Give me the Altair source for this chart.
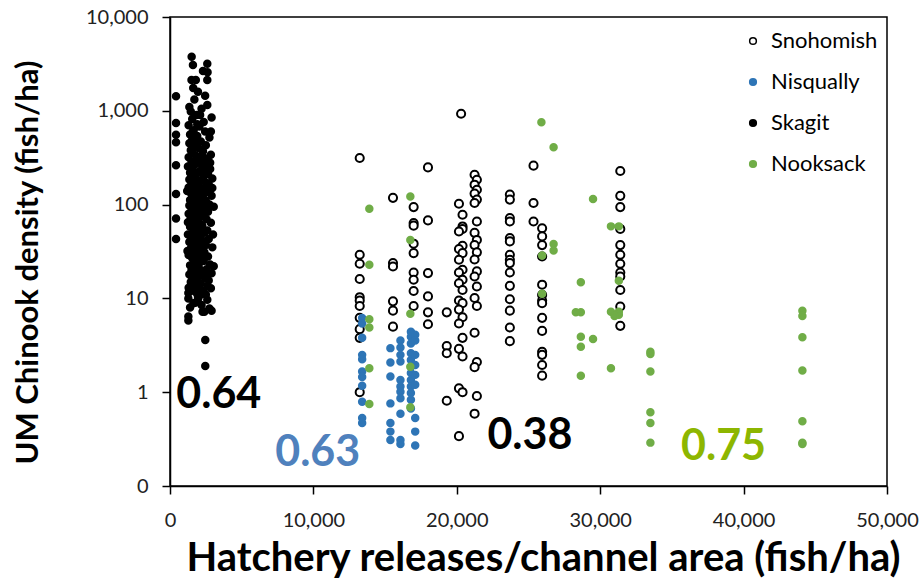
import altair as alt
import pandas as pd

# ---------------- data ----------------
sno_x = ([13230] * 11 + [15550] * 6 + [16990] * 9 + [17990] * 6 + [19300] * 4
         + [20300, 20150, 20400, 20400, 20400, 20150, 20400, 20150, 20400, 20150, 20400, 20150, 20400,
            20150, 20400, 20150, 20400, 20150, 20400, 20150, 20400, 20150, 20400, 20150, 20400, 20150]
         + [21240, 21400, 21240, 21400, 21240, 21400, 21240, 21400, 21240, 21400, 21240, 21400,
            21240, 21400, 21240, 21400, 21240, 21400, 21240, 21400, 21240, 21400, 21240]
         + [23700] * 15 + [25350] * 3 + [25950] * 14 + [31400] * 12)
sno_y = ([314, 29.2, 23.4, 16.1, 10.3, 9.5, 8.3, 6.2, 4.7, 3.8, 1.0]
         + [118, 23.8, 21.9, 9.3, 7.4, 5.0]
         + [94, 63.6, 59.6, 38.3, 30.4, 18.9, 15.8, 12.0, 8.3]
         + [249, 67.8, 18.6, 10.5, 7.1, 5.3]
         + [7.1, 3.1, 2.6, 0.81]
         + [930, 102, 78, 58.5, 55, 51.7, 36.4, 33.6, 30.4, 25.8, 20.2, 18.9, 15.8, 14.5, 12.3, 9.5,
            8.9, 7.6, 6.3, 5.4, 3.8, 2.9, 2.4, 1.1, 1.0, 0.34]
         + [208, 184, 163, 144, 131, 113, 104, 66, 50, 42, 37, 31, 26, 19.4, 17.1, 13.4, 10.1, 8.3,
            4.3, 2.1, 1.85, 0.91, 0.59]
         + [128, 113, 72, 66, 44, 40.5, 29.2, 25.8, 23.8, 18.9, 13.6, 9.8, 7.4, 4.9, 3.5]
         + [260, 104, 66]
         + [56, 45.8, 37, 28, 14, 10.9, 9.5, 8.9, 6.2, 4.5, 2.7, 2.5, 1.95, 1.5]
         + [228, 124, 94, 55, 37, 29.2, 23.4, 18.9, 17.1, 12.3, 8.2, 5.1])

nis_x = [13400] * 11 + [15370] * 7 + [16070] * 11 + [16800] * 12 + [17100] * 9
nis_y = ([6.2, 5.4, 3.8, 2.5, 2.25, 1.66, 1.45, 1.17, 0.79, 0.53, 0.47]
         + [2.95, 2.07, 1.47, 0.76, 0.47, 0.38, 0.31]
         + [3.55, 3.0, 2.5, 2.12, 1.35, 1.15, 1.01, 0.86, 0.59, 0.31, 0.28]
         + [4.4, 3.9, 3.3, 2.6, 2.2, 1.87, 1.6, 1.35, 1.15, 0.98, 0.83, 0.67]
         + [4.1, 3.55, 2.5, 1.95, 1.53, 1.2, 0.53, 0.38, 0.27])

ska_x = [420, 420, 420, 420, 420, 420, 420, 420,
         1510, 1600, 2600, 2300, 2620, 1500, 1800, 2600, 1620, 1950,
         1700, 2600, 2200, 1450, 1850, 2900, 1550, 2350, 1300, 2050,
         1650, 2450, 1400, 1900, 2750, 1550, 2150, 1350, 2500, 1750,
         2000, 1450, 2300, 1600, 2850, 1850, 1300, 2600, 2100, 1500,
         1950, 2400, 1700, 1250, 2250, 2800, 1550, 2050, 1400, 2650,
         1800, 2350, 1650, 2950, 1350, 2150, 1900, 2500, 1500, 2700,
         1750, 2000, 1300, 2400, 1600, 2250, 1850, 2600, 1450, 2100,
         1700, 2900, 1550, 2300, 1950, 1400, 2500, 1800, 2050, 1650,
         2750, 1350, 2200, 1900, 1500, 2450, 1750, 2050, 2650, 1600,
         1300, 2350, 1850, 2150, 1450, 2550, 1950, 1700, 2850, 1550,
         2250, 1400, 2000, 1800, 2600, 1650, 2400, 1250, 2100, 1900,
         1500, 2700, 1750, 2300, 1350, 2050, 1600, 2500, 1850, 2950,
         1450, 2200, 1700, 2400, 1950, 1300, 2650, 1550, 2100, 1800,
         2350, 1650, 2800, 1400, 2000, 1900, 2550, 1500, 2250, 1750,
         2900, 1350, 2050, 1600, 2450, 1850, 2700, 1450, 2150, 1700,
         2600, 1300, 2000, 2850, 1550, 2300, 1800, 1280, 2500, 1950,
         1280, 1970, 2600, 1630, 2200, 1400, 2750, 2270, 2400, 2900,
         1280, 1280, 2460, 2460, 1700, 2100, 1500, 2250, 1900, 2450,
         1350, 2800, 1200, 3050, 1250, 3000, 1220, 3050, 2950, 2850,
         1600, 2100, 1700, 2400, 1650, 2300, 1550, 2150, 1750, 2650]
ska_y = [1429, 743, 557, 461, 262, 130, 71, 43,
         3760, 3080, 3180, 2650, 2580, 2130, 2130, 2130, 1750, 1600,
         1320, 1150, 1050, 980, 900, 850, 820, 760, 700, 680,
         620, 600, 560, 540, 520, 490, 470, 450, 430, 420,
         400, 380, 370, 355, 340, 330, 320, 310, 300, 290,
         280, 270, 262, 255, 248, 240, 232, 225, 218, 212,
         205, 200, 195, 190, 185, 180, 176, 172, 168, 165,
         160, 156, 152, 149, 146, 142, 139, 136, 133, 130,
         127, 124, 121, 118, 115, 112, 110, 107, 105, 102,
         100, 98, 96, 94, 92, 90, 88, 86, 84, 82,
         80, 78, 76, 74, 72, 70, 68, 66, 64, 62,
         60, 58, 56, 55, 53, 51, 50, 48, 47, 46,
         44, 43, 42, 41, 40, 39, 38, 37, 36, 35,
         34, 33, 32, 31, 30, 29, 28, 27, 26, 25.5,
         25, 24, 23, 22.5, 22, 21, 20.5, 20, 19.5, 19,
         18.5, 18, 17.5, 17, 16.5, 16, 15.5, 15, 14.5, 14,
         13.5, 13, 12.8, 12.8, 12.2, 12, 11.6, 11.4, 11, 10.5,
         10, 10, 9.7, 8.9, 8.5, 8, 7.8, 7.2, 7.2, 7.4,
         6.4, 5.8, 3.6, 1.9, 25, 62, 150, 330, 720, 1450,
         1100, 280, 140, 95, 65, 48, 32, 22, 150, 600,
         600, 900, 450, 230, 70, 30, 16, 11, 9, 18]

nook_x = ([13900] * 6 + [16760] * 5
          + [25900, 26750, 29500, 26750, 26750, 25950, 25950]
          + [28650, 28650, 28300, 28650, 28650, 28650, 29500]
          + [30750, 31300, 31300, 30750, 31300, 31300, 31000, 30750]
          + [33500] * 6 + [44100] * 7)
nook_y = ([90.5, 22.8, 6.0, 4.9, 1.8, 0.75]
          + [122, 42, 6.85, 1.87, 0.69]
          + [754, 408, 115, 38, 32.5, 28.6, 11.2]
          + [14.9, 7.1, 7.1, 3.9, 3.06, 1.5, 3.7]
          + [58.6, 58.6, 15.4, 7.2, 7.2, 6.7, 6.5, 1.8]
          + [2.7, 2.55, 1.66, 0.61, 0.47, 0.29]
          + [7.4, 6.5, 3.86, 1.7, 0.49, 0.29, 0.28])

rivers = ["Snohomish", "Nisqually", "Skagit", "Nooksack"]
fill_colors = ["white", "#2E75B6", "black", "#70AD47"]
stroke_colors = ["black", "#2E75B6", "black", "#70AD47"]
marker_sizes = {"Snohomish": 66, "Nisqually": 42, "Skagit": 42, "Nooksack": 42}

label_text = ["0.64", "0.63", "0.38", "0.75"]
label_x = [3400, 10300, 25100, 38600]
label_y = [0.93, 0.225, 0.34, 0.26]
label_colors = ["black", "#4F81BD", "black", "#8DB600"]

x_ticks = [0, 10000, 20000, 30000, 40000, 50000]
y_ticks = [0.1, 1, 10, 100, 1000, 10000]

# ---------------- tables ----------------
rows = []
for name, xs, ys in [("Snohomish", sno_x, sno_y), ("Nisqually", nis_x, nis_y),
                     ("Skagit", ska_x, ska_y), ("Nooksack", nook_x, nook_y)]:
    for xv, yv in zip(xs, ys):
        rows.append({"river": name, "release": xv, "density": yv, "sz": marker_sizes[name]})
df = pd.DataFrame(rows)
df["idx"] = range(len(df))

labels_df = pd.DataFrame({"text": label_text, "release": label_x,
                          "density": label_y, "col": label_colors})

FONT = "Lato"

x_scale = alt.Scale(domain=[0, 50000], nice=False, zero=False)
y_scale = alt.Scale(type="log", domain=[0.1, 10000], nice=False)

legend = alt.Legend(title=None, orient="none", legendX=572, legendY=13,
                    labelFontSize=22, labelFont=FONT, labelColor="black",
                    symbolType="circle", symbolSize=45, symbolStrokeWidth=1.5,
                    rowPadding=19, labelOffset=7, padding=0)

points = alt.Chart(df).mark_point(filled=True, strokeWidth=2, opacity=1).encode(
    x=alt.X("release:Q", scale=x_scale,
            axis=alt.Axis(values=x_ticks, grid=False,
                          labelExpr="format(datum.value, ',')",
                          title="Hatchery releases/channel area (fish/ha)",
                          titleFontSize=40, titleFontWeight="bold", titleFont=FONT,
                          titleColor="black", titleX=373, titleY=72, titleBaseline="middle",
                          titleAlign="center",
                          labelFontSize=20, labelFont=FONT, labelColor="#222222",
                          labelPadding=16, tickSize=8, tickWidth=1.5, tickColor="black",
                          domainColor="black", domainWidth=1.5, labelFlush=False)),
    y=alt.Y("density:Q", scale=y_scale,
            axis=alt.Axis(values=y_ticks, grid=False,
                          labelExpr="datum.value < 1 ? '0' : format(datum.value, ',')",
                          title="UM Chinook density (fish/ha)",
                          titleFontSize=31, titleFontWeight="bold", titleFont=FONT,
                          titleColor="black", titleX=-142, titleY=245, titleBaseline="middle",
                          titleAlign="center",
                          labelFontSize=20, labelFont=FONT, labelColor="#222222",
                          labelPadding=14, tickSize=8, tickWidth=1.5, tickColor="black",
                          domainColor="black", domainWidth=1.5, labelFlush=False)),
    fill=alt.Fill("river:N", scale=alt.Scale(domain=rivers, range=fill_colors), legend=legend),
    stroke=alt.Stroke("river:N", scale=alt.Scale(domain=rivers, range=stroke_colors), legend=legend),
    size=alt.Size("sz:Q", scale=None),
    order=alt.Order("idx:Q"),
)

texts = alt.Chart(labels_df).mark_text(font=FONT, fontWeight="bold", fontSize=43,
                                       baseline="middle", align="center").encode(
    x=alt.X("release:Q", scale=x_scale),
    y=alt.Y("density:Q", scale=y_scale),
    text="text:N",
    color=alt.Color("col:N", scale=None),
)

chart = alt.layer(points, texts).properties(
    width=717, height=469,
    padding={"left": 170, "top": 17, "right": 35, "bottom": 94},
    autosize=alt.AutoSizeParams(type="none"),
    background="white",
).configure_view(stroke="black", strokeWidth=1.5)

chart.save("out.html", embed_options={"renderer": "svg", "actions": False})
